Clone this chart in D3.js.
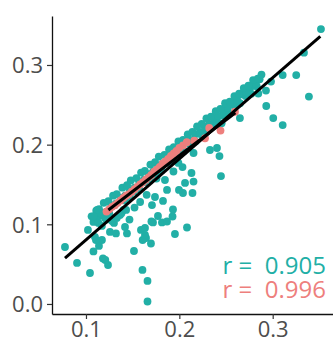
<!DOCTYPE html>
<html>
<head>
<meta charset="utf-8">
<script src="https://cdn.jsdelivr.net/npm/d3@7"></script>
<style>
  html, body { margin: 0; padding: 0; background: #fff; }
  svg { display: block; }
  text { font-family: "Open Sans", "Noto Sans", sans-serif; }
</style>
</head>
<body>
<div id="chart"></div>
<script>
// ---------- data ----------
const xTicks = [0.1, 0.2, 0.3];
const yTicks = [0.0, 0.1, 0.2, 0.3];
const xTickLabels = ["0.1", "0.2", "0.3"];
const yTickLabels = ["0.0", "0.1", "0.2", "0.3"];

// teal: dense upper band
const tealBandTop = [
  [0.106,0.110],[0.111,0.117],[0.114,0.119],[0.119,0.127],[0.124,0.129],[0.129,0.136],
  [0.133,0.138],[0.139,0.146],[0.144,0.149],[0.148,0.155],[0.154,0.158],[0.159,0.165],
  [0.163,0.167],[0.169,0.175],[0.174,0.178],[0.178,0.185],[0.184,0.187],[0.189,0.194],
  [0.194,0.197],[0.199,0.204],[0.204,0.206],[0.209,0.213],[0.214,0.216],[0.219,0.223],
  [0.224,0.226],[0.229,0.233],[0.234,0.235],[0.239,0.242],[0.244,0.245],[0.249,0.252],
  [0.254,0.254],[0.259,0.261],[0.264,0.264],[0.269,0.271],[0.274,0.274],[0.279,0.281],
  [0.284,0.283],[0.288,0.288]
];
const tealBandMid = [
  [0.108,0.103],[0.112,0.108],[0.117,0.114],[0.122,0.116],[0.127,0.123],[0.132,0.126],
  [0.137,0.133],[0.142,0.136],[0.147,0.143],[0.152,0.146],[0.157,0.153],[0.162,0.156],
  [0.167,0.163],[0.172,0.166],[0.177,0.173],[0.182,0.176],[0.187,0.183],[0.192,0.186],
  [0.197,0.193],[0.202,0.196],[0.207,0.203],[0.212,0.206],[0.217,0.213],[0.222,0.216],
  [0.227,0.223],[0.232,0.226],[0.237,0.233],[0.242,0.236],[0.247,0.243],[0.252,0.246],
  [0.257,0.253],[0.262,0.256],[0.267,0.263],[0.272,0.266],[0.277,0.273],[0.282,0.276],
  [0.286,0.282]
];
const tealBandLow = [
  [0.141,0.130],[0.147,0.134],[0.151,0.141],[0.157,0.144],[0.163,0.153],[0.169,0.156],
  [0.175,0.165],[0.181,0.168],[0.187,0.177],[0.193,0.180],[0.199,0.189],[0.205,0.192],
  [0.211,0.201],[0.217,0.204],[0.223,0.213],[0.229,0.216],[0.235,0.225],[0.241,0.228],
  [0.247,0.237],[0.253,0.240],[0.259,0.249],[0.265,0.252],[0.271,0.261],[0.277,0.264],
  [0.283,0.273]
];
// teal: scattered points
const tealScatter = [
  [0.0775,0.0715],[0.0904,0.0515],[0.1043,0.0389],[0.1236,0.0489],[0.1182,0.0571],
  [0.1080,0.0659],[0.1139,0.0728],[0.1021,0.0929],[0.1096,0.0841],[0.1257,0.0904],
  [0.1321,0.0885],[0.1418,0.0966],[0.1439,0.0885],[0.1514,0.0665],[0.1605,0.0427],
  [0.1659,0.0289],[0.1659,0.0031],[0.1589,0.0929],[0.1643,0.0828],[0.1696,0.0759],
  [0.1718,0.1023],[0.1814,0.1023],[0.1868,0.1035],[0.1771,0.1104],[0.1927,0.1098],
  [0.1932,0.1186],[0.1707,0.1242],[0.1825,0.1293],[0.1739,0.1343],[0.1953,0.0878],
  [0.2082,0.0960],[0.1868,0.1431],[0.2039,0.1393],[0.1466,0.1060],[0.1364,0.1117],
  [0.1300,0.1017],[0.1204,0.1079],[0.1134,0.1017],[0.1150,0.1142],[0.1402,0.1180],
  [0.1607,0.0803],[0.2328,0.1933],[0.2403,0.1958],[0.2430,0.1857],[0.2446,0.1606],
  [0.2034,0.1719],[0.2130,0.1644],[0.2152,0.1537],[0.2061,0.1519],[0.1996,0.1431],
  [0.2141,0.1393],[0.1846,0.1556],[0.1937,0.1663],[0.1701,0.1035],[0.1632,0.0954],
  [0.1632,0.0866],[0.1755,0.1575],[0.1723,0.1663],[0.2152,0.1895],[0.1990,0.1770],
  [0.3517,0.3451],[0.3335,0.3154],[0.3107,0.2874],[0.3252,0.2874],[0.3388,0.2604],
  [0.2982,0.2792],[0.2928,0.2679],[0.2846,0.2642],[0.2931,0.2485],[0.3006,0.2334],
  [0.3107,0.2246],[0.2649,0.2334],[0.2453,0.2268],[0.1171,0.0803],[0.1207,0.0552],
  [0.1107,0.0803],[0.112,0.118],[0.118,0.111],[0.122,0.106],[0.128,0.104],
  [0.117,0.098],[0.108,0.110],[0.125,0.113],[0.133,0.108],[0.138,0.114],
  [0.143,0.118],[0.158,0.128],[0.165,0.137],[0.152,0.121]
];
// pink points
const pinkPoints = [
  [0.122,0.116],[0.125,0.119],[0.128,0.122],[0.131,0.124],[0.134,0.127],[0.137,0.130],
  [0.140,0.133],[0.143,0.136],[0.146,0.138],[0.149,0.141],[0.152,0.144],[0.155,0.147],
  [0.158,0.150],[0.161,0.153],[0.164,0.156],[0.167,0.159],[0.170,0.162],[0.173,0.166],
  [0.176,0.169],[0.179,0.172],[0.182,0.176],[0.185,0.179],[0.188,0.182],[0.191,0.186],
  [0.194,0.189],[0.197,0.192],[0.200,0.196],[0.204,0.199],[0.208,0.203],
  [0.216,0.205],[0.2275,0.2080],[0.232,0.221],[0.2441,0.2177],[0.2596,0.2413]
];
// fitted lines (endpoints)
const fitTeal = [[0.0775,0.0575],[0.351,0.336]];
const fitPink = [[0.124,0.118],[0.260,0.240]];
// correlation labels
const rLabels = ["r =  0.905", "r =  0.996"];
const seriesColors = ["#22AFA6", "#EE7F7D"];

// ---------- layout ----------
const W = 333, H = 344;
const svg = d3.select("#chart").append("svg").attr("width", W).attr("height", H);

const x = d3.scaleLinear().domain([0.0636, 0.3646]).range([52, 333]);
const y = d3.scaleLinear().domain([-0.0126, 0.3615]).range([314, 16]);

const tealAll = tealBandLow.concat(tealBandMid, tealBandTop, tealScatter);

svg.append("g").selectAll("circle").data(tealAll).join("circle")
  .attr("cx", d => x(d[0])).attr("cy", d => y(d[1])).attr("r", 3.9)
  .attr("fill", seriesColors[0]);

svg.append("g").selectAll("circle").data(pinkPoints).join("circle")
  .attr("cx", d => x(d[0])).attr("cy", d => y(d[1])).attr("r", 3.9)
  .attr("fill", seriesColors[1]);

const line = d3.line().x(d => x(d[0])).y(d => y(d[1]));
[fitTeal, fitPink].forEach(l => {
  svg.append("path").attr("d", line(l)).attr("fill", "none")
    .attr("stroke", "#000").attr("stroke-width", 3);
});

// axes
const xAxis = d3.axisBottom(x).tickValues(xTicks)
  .tickFormat((d, i) => xTickLabels[i]).tickSize(5).tickSizeOuter(0).tickPadding(2);
const yAxis = d3.axisLeft(y).tickValues(yTicks)
  .tickFormat((d, i) => yTickLabels[i]).tickSize(5).tickSizeOuter(0).tickPadding(4);

const gx = svg.append("g").attr("transform", "translate(0,314)").call(xAxis);
const gy = svg.append("g").attr("transform", "translate(52,0)").call(yAxis);
[gx, gy].forEach(g => {
  g.select(".domain").attr("stroke", "#111").attr("stroke-width", 1.3);
  g.selectAll(".tick line").attr("stroke", "#333").attr("stroke-width", 1.2);
  g.selectAll(".tick text").attr("fill", "#4D4D4D")
    .style("font-size", "22px").style("font-family", "'Open Sans', 'Noto Sans', sans-serif");
});
gy.selectAll(".tick text").attr("dy", "0.36em");

// r labels
rLabels.forEach((t, i) => {
  svg.append("text").attr("x", 326).attr("y", 274 + i * 24)
    .attr("text-anchor", "end").attr("fill", seriesColors[i])
    .style("font-size", "24px").style("white-space", "pre").text(t);
});
</script>
</body>
</html>
